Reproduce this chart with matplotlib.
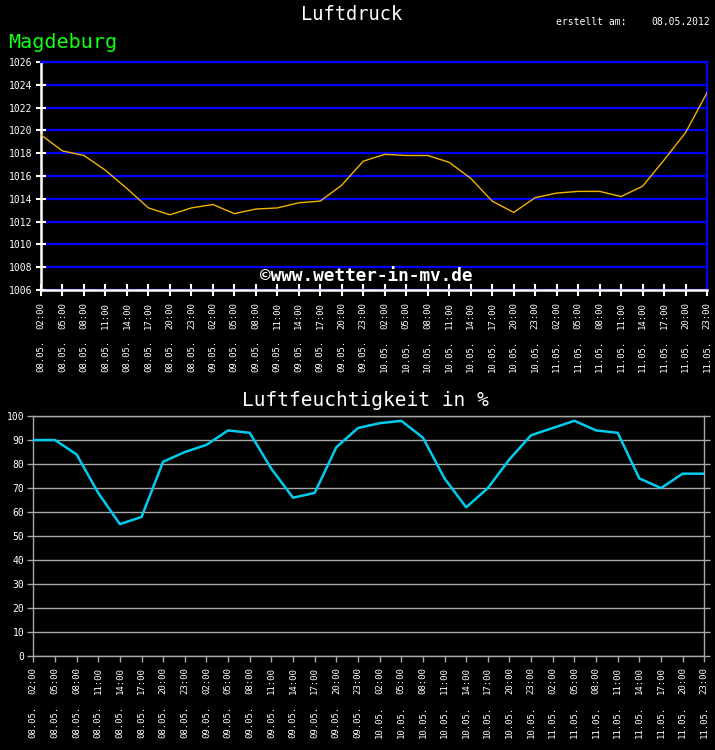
import matplotlib
matplotlib.use('Agg')
import matplotlib.pyplot as plt

times = ['02:00', '05:00', '08:00', '11:00', '14:00', '17:00', '20:00', '23:00'] * 4
dates = ['08.05.'] * 8 + ['09.05.'] * 8 + ['10.05.'] * 8 + ['11.05.'] * 8

pressure = [1019.6, 1018.2, 1017.8, 1016.5, 1014.9, 1013.2, 1012.6, 1013.2,
            1013.5, 1012.7, 1013.1, 1013.2, 1013.65, 1013.8, 1015.2, 1017.3,
            1017.9, 1017.8, 1017.8, 1017.2, 1015.8, 1013.8, 1012.8, 1014.1,
            1014.5, 1014.65, 1014.65, 1014.2, 1015.1, 1017.4, 1019.8, 1023.3]

humidity = [90, 90, 84, 68, 55, 58, 81, 85, 88, 94, 93, 78, 66, 68, 87, 95,
            97, 98, 91, 74, 62, 70, 82, 92, 95, 98, 94, 93, 74, 70, 76, 76]

p_ticks = list(range(1006, 1027, 2))
h_ticks = list(range(0, 101, 10))

MONO = 'DejaVu Sans Mono'
W, H = 715, 750

fig = plt.figure(figsize=(W / 100, H / 100), dpi=100, facecolor='black')

def fx(px):
    return px / W

def fy(py):
    return 1 - py / H

x = list(range(len(pressure)))

# ---------- Top chart: Luftdruck ----------
ax1 = fig.add_axes([fx(41), fy(290), fx(707) - fx(41), fy(62) - fy(290)], facecolor='black')
ax1.plot(x, pressure, color='#f0b400', lw=1.0, zorder=3)
ax1.set_xlim(0, len(x) - 1)
ax1.set_ylim(1006, 1026)
ax1.set_yticks(p_ticks)
ax1.set_yticklabels([str(v) for v in p_ticks], family=MONO, fontsize=7, color='white')
ax1.set_xticks(x)
ax1.set_xticklabels([])
ax1.grid(axis='y', color='#0000ff', lw=1.6, zorder=1)
ax1.grid(axis='x', visible=False)
for s in ['left', 'bottom']:
    ax1.spines[s].set_color('white')
    ax1.spines[s].set_linewidth(1.8)
for s in ['right', 'top']:
    ax1.spines[s].set_color('#0000ff')
    ax1.spines[s].set_linewidth(1.6)
ax1.tick_params(axis='x', direction='inout', length=8, width=1.5, color='white')
ax1.tick_params(axis='y', direction='inout', length=7, width=1.5, color='white', pad=3)
for i in x:
    ax1.annotate(times[i], xy=(i, 0), xycoords=('data', 'axes fraction'),
                 xytext=(0, -8.6), textcoords='offset points', rotation=90,
                 ha='center', va='top', family=MONO, fontsize=6.5, color='white')
    ax1.annotate(dates[i], xy=(i, 0), xycoords=('data', 'axes fraction'),
                 xytext=(0, -36), textcoords='offset points', rotation=90,
                 ha='center', va='top', family=MONO, fontsize=6.5, color='white')

# ---------- Bottom chart: Luftfeuchtigkeit ----------
ax2 = fig.add_axes([fx(33.3), fy(656.3), fx(704.3) - fx(33.3), fy(416) - fy(656.3)], facecolor='black')
ax2.plot(x, humidity, color='#00ccee', lw=1.8, zorder=3)
ax2.set_xlim(0, len(x) - 1)
ax2.set_ylim(0, 100)
ax2.set_yticks(h_ticks)
ax2.set_yticklabels([str(v) for v in h_ticks], family=MONO, fontsize=7, color='white')
ax2.set_xticks(x)
ax2.set_xticklabels([])
ax2.grid(axis='y', color='#a8a8a8', lw=1.0, zorder=1)
for s in ['left', 'bottom', 'right', 'top']:
    ax2.spines[s].set_color('#a8a8a8')
    ax2.spines[s].set_linewidth(1.0)
ax2.tick_params(axis='x', direction='out', length=4.5, width=1.0, color='#a8a8a8')
ax2.tick_params(axis='y', direction='out', length=4.5, width=1.0, color='#a8a8a8', pad=2,
                right=True)
for i in x:
    ax2.annotate(times[i], xy=(i, 0), xycoords=('data', 'axes fraction'),
                 xytext=(0, -7.9), textcoords='offset points', rotation=90,
                 ha='center', va='top', family=MONO, fontsize=6.5, color='white')
    ax2.annotate(dates[i], xy=(i, 0), xycoords=('data', 'axes fraction'),
                 xytext=(0, -35.3), textcoords='offset points', rotation=90,
                 ha='center', va='top', family=MONO, fontsize=6.5, color='white')

# ---------- Texts ----------
fig.text(fx(352), fy(15), 'Luftdruck', family=MONO, fontsize=13.5, color='white',
         ha='center', va='center')
fig.text(fx(8), fy(43), 'Magdeburg', family=MONO, fontsize=14.5, color='#11ff11',
         ha='left', va='center')
fig.text(fx(556), fy(22), 'erstellt am:', family=MONO, fontsize=7, color='white',
         ha='left', va='center')
fig.text(fx(710), fy(22), '08.05.2012', family=MONO, fontsize=7, color='white',
         ha='right', va='center')
fig.text(fx(365), fy(400), 'Luftfeuchtigkeit in %', family=MONO, fontsize=14,
         color='white', ha='center', va='center')
fig.text(fx(366), fy(276), '©www.wetter-in-mv.de', family=MONO, fontsize=12.8,
         fontweight='bold', color='white', ha='center', va='center')

fig.savefig('out.png', dpi=100, facecolor='black')
